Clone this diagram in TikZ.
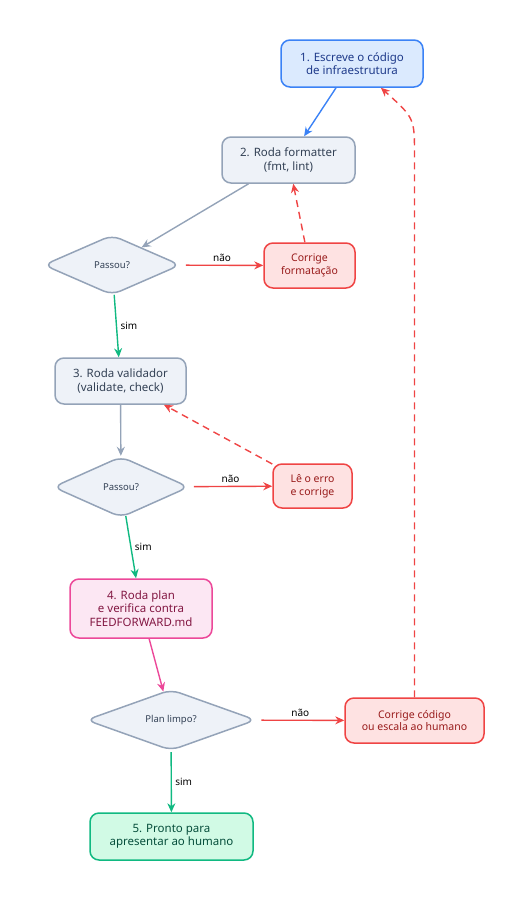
\documentclass[tikz,border=0pt]{standalone}
\usepackage{fontspec}
\setmainfont{Noto Sans}
\usetikzlibrary{shapes.geometric,arrows.meta}
\definecolor{azulfill}{HTML}{DBEAFE}\definecolor{azulline}{HTML}{3B82F6}\definecolor{azultext}{HTML}{1E3A8A}
\definecolor{cinzafill}{HTML}{EEF2F8}\definecolor{cinzaline}{HTML}{94A3B8}\definecolor{cinzatext}{HTML}{334155}
\definecolor{vermfill}{HTML}{FEE2E2}\definecolor{vermline}{HTML}{EF4444}\definecolor{vermtext}{HTML}{991B1B}
\definecolor{rosafill}{HTML}{FCE7F3}\definecolor{rosaline}{HTML}{EC4899}\definecolor{rosatext}{HTML}{831843}
\definecolor{verdefill}{HTML}{D1FAE5}\definecolor{verdeline}{HTML}{10B981}\definecolor{verdetext}{HTML}{064E3B}
\begin{document}
\begin{tikzpicture}[x=1pt,y=-1pt,
    caixa/.style={rounded corners=9pt,line width=1.5pt,align=center,inner sep=0pt,font=\fontsize{11.5}{13.5}\selectfont},
    azul/.style={caixa,draw=azulline,fill=azulfill,text=azultext},
    cinza/.style={caixa,draw=cinzaline,fill=cinzafill,text=cinzatext},
    verm/.style={caixa,draw=vermline,fill=vermfill,text=vermtext,font=\fontsize{10.5}{12.5}\selectfont},
    rosa/.style={caixa,draw=rosaline,fill=rosafill,text=rosatext},
    verde/.style={caixa,draw=verdeline,fill=verdefill,text=verdetext},
    decisao/.style={diamond,draw=cinzaline,fill=cinzafill,text=cinzatext,line width=1.5pt,rounded corners=9pt,inner sep=0pt,font=\fontsize{9.5}{11}\selectfont},
    seta/.style={-{Stealth[length=9pt,width=8pt]},line width=1.4pt},
    volta/.style={dash pattern=on 7pt off 5pt},
    rotulo/.style={font=\fontsize{10}{12}\selectfont,text=black}]
  \useasboundingbox (0,0) rectangle (524,900);

  \node[azul,minimum width=142,minimum height=47] (escreve) at (352,63.5) {1. Escreve o código\\de infraestrutura};
  \node[cinza,minimum width=133,minimum height=46] (formatter) at (288.5,160) {2. Roda formatter\\(fmt, lint)};
  \node[decisao,minimum width=137,minimum height=60] (passou1) at (112,265) {Passou?};
  \node[verm,minimum width=91,minimum height=45] (corrigefmt) at (309.5,265.5) {Corrige\\formatação};
  \node[cinza,minimum width=131,minimum height=46] (validador) at (120.5,381) {3. Roda validador\\(validate, check)};
  \node[decisao,minimum width=136,minimum height=61] (passou2) at (121,487) {Passou?};
  \node[verm,minimum width=79,minimum height=44] (leerro) at (312.5,486) {Lê o erro\\e corrige};
  \node[rosa,minimum width=142,minimum height=59] (plan) at (141,608.5) {4. Roda plan\\e verifica contra\\FEEDFORWARD.md};
  \node[decisao,minimum width=170,minimum height=61] (limpo) at (171,720) {Plan limpo?};
  \node[verm,minimum width=139,minimum height=45] (corrigecod) at (414.5,720.5) {Corrige código\\ou escala ao humano};
  \node[verde,minimum width=163,minimum height=47] (pronto) at (171.5,836.5) {5. Pronto para\\apresentar ao humano};
  \coordinate (volta) at (414.5,155);

  \draw[seta,azulline] (escreve) -- (formatter);
  \draw[seta,cinzaline] (formatter) -- (passou1);
  \draw[seta,vermline,shorten <=5pt] (passou1) -- node[rotulo,above] {não} (corrigefmt);
  \draw[seta,vermline,volta] (corrigefmt) -- (formatter);
  \draw[seta,verdeline] (passou1) -- node[rotulo,right] {sim} (validador);
  \draw[seta,cinzaline] (validador) -- (passou2);
  \draw[seta,vermline,shorten <=5pt] (passou2) -- node[rotulo,above] {não} (leerro);
  \draw[seta,vermline,volta] (leerro) -- (validador);
  \draw[seta,verdeline] (passou2) -- node[rotulo,right] {sim} (plan);
  \draw[seta,rosaline] (plan) -- (limpo);
  \draw[seta,vermline,shorten <=5pt] (limpo) -- node[rotulo,above] {não} (corrigecod);
  \draw[seta,vermline,volta] (corrigecod) -- (volta) .. controls (414.5,118) .. (escreve.-40);
  \draw[seta,verdeline,shorten <=1pt] (limpo) -- node[rotulo,right] {sim} (pronto);
\end{tikzpicture}
\end{document}
